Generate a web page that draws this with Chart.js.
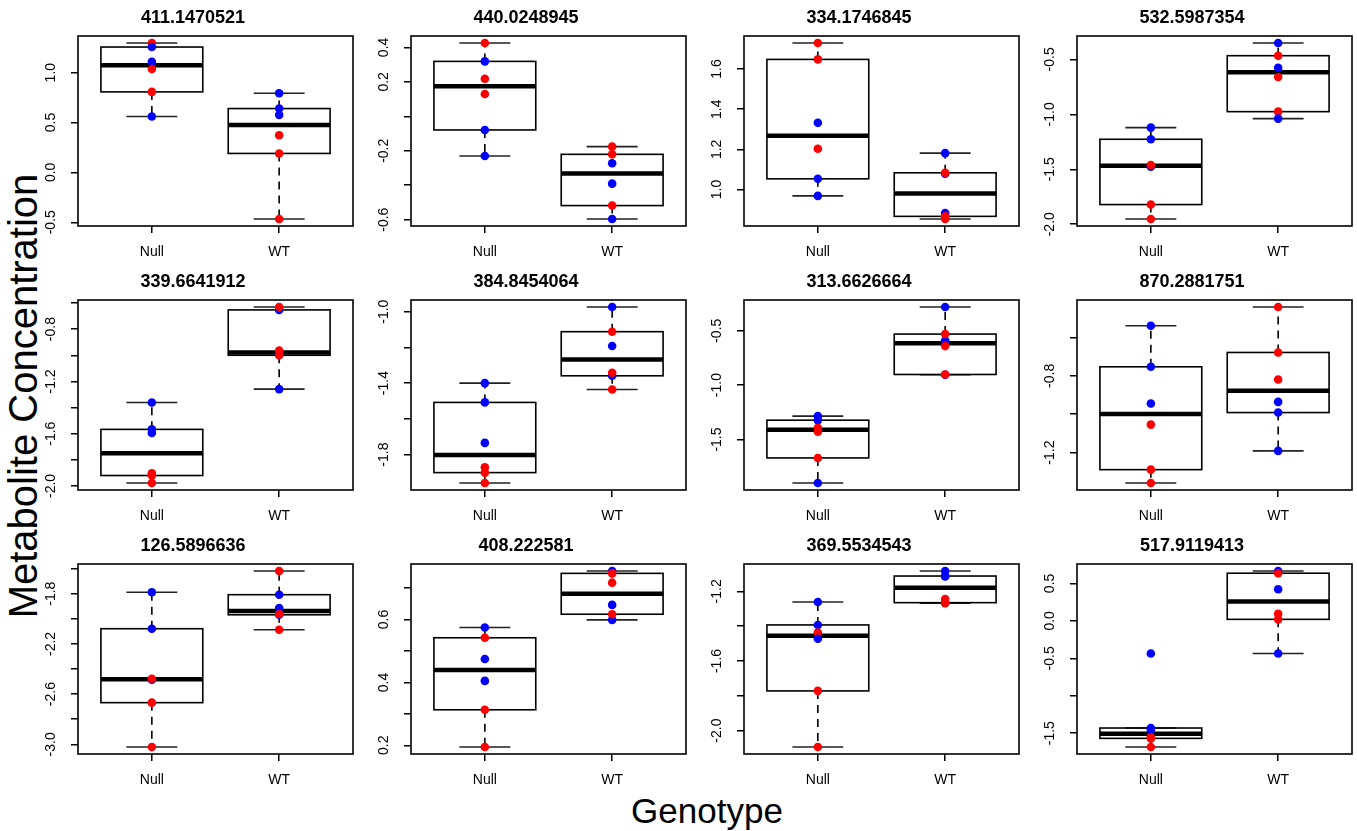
<!DOCTYPE html>
<html>
<head>
<meta charset="utf-8">
<script src="https://cdn.jsdelivr.net/npm/chart.js@4.4.0/dist/chart.umd.min.js"></script>
<style>
  body { margin: 0; width: 1357px; height: 831px; overflow: hidden; background: #fff; font-family: 'Liberation Sans', Arial, sans-serif; }
  .panel { position: absolute; width: 365px; height: 264px; }
  #ylab { position: absolute; left: 23px; top: 396px; transform: translate(-50%, -50%) rotate(-90deg); font-size: 40px; white-space: nowrap; }
  #xlab { position: absolute; left: 707px; top: 811px; transform: translate(-50%, -50%); font-size: 35px; white-space: nowrap; }
</style>
</head>
<body>
<div id="ylab">Metabolite Concentration</div>
<div id="xlab">Genotype</div>
<script>
// Data
const titles = ['411.1470521', '440.0248945', '334.1746845', '532.5987354',
                '339.6641912', '384.8454064', '313.6626664', '870.2881751',
                '126.5896636', '408.222581', '369.5534543', '517.9119413'];
const groups = ['Null', 'WT'];

// sample values per panel (drawing order); sample type 0 = red, 1 = blue
const nullValues = [
  [1.297, 1.257, 1.11, 1.037, 0.807, 0.56],
  [0.4255, 0.319, 0.2186, 0.1296, -0.079, -0.23],
  [1.7296, 1.648, 1.332, 1.2028, 1.053, 0.968],
  [-1.121, -1.227, -1.476, -1.461, -1.821, -1.952],
  [-1.3615, -1.567, -1.595, -1.903, -1.92, -1.977],
  [-1.4, -1.508, -1.7346, -1.871, -1.901, -1.959],
  [-1.285, -1.322, -1.393, -1.429, -1.669, -1.899],
  [-0.539, -0.753, -0.944, -1.054, -1.2887, -1.358],
  [-1.789, -2.079, -2.486, -2.478, -2.668, -3.021],
  [0.5749, 0.5421, 0.4746, 0.4049, 0.313, 0.1947],
  [-1.261, -1.393, -1.437, -1.472, -1.772, -2.094],
  [-0.4356, -1.431, -1.458, -1.555, -1.569, -1.684]
];
const nullTypes = [
  [0, 1, 1, 0, 0, 1], [0, 1, 0, 0, 1, 1], [0, 0, 1, 0, 1, 1], [1, 1, 1, 0, 0, 0],
  [1, 1, 1, 0, 0, 0], [1, 1, 1, 0, 0, 0], [1, 1, 0, 0, 0, 1], [1, 1, 1, 0, 0, 0],
  [1, 1, 1, 0, 0, 0], [1, 0, 1, 1, 0, 0], [1, 1, 0, 1, 0, 0], [1, 1, 1, 0, 0, 0]
];
const wtValues = [
  [0.793, 0.64, 0.577, 0.373, 0.19, -0.467],
  [-0.176, -0.2205, -0.2727, -0.3907, -0.518, -0.5957],
  [1.181, 1.078, 1.083, 0.882, 0.866, 0.853],
  [-0.3515, -0.4667, -0.5758, -0.6606, -0.9758, -1.0394],
  [-0.653, -0.631, -0.995, -0.963, -1.0, -1.259],
  [-0.974, -1.112, -1.1925, -1.359, -1.342, -1.4355],
  [-0.2822, -0.589, -0.5307, -0.641, -0.905, -0.902],
  [-0.4417, -0.6783, -0.819, -0.9357, -0.9913, -1.191],
  [-1.6195, -1.808, -1.914, -1.968, -1.962, -2.087],
  [0.7544, 0.747, 0.7174, 0.6467, 0.599, 0.617],
  [-1.0833, -1.112, -1.114, -1.244, -1.265, -1.268],
  [0.665, 0.636, 0.422, 0.095, 0.02, -0.4356]
];
const wtTypes = [
  [1, 1, 1, 0, 0, 0], [0, 0, 1, 1, 0, 1], [1, 1, 0, 1, 0, 0], [1, 0, 1, 0, 0, 1],
  [1, 0, 1, 0, 0, 1], [1, 0, 1, 1, 0, 0], [1, 1, 0, 0, 1, 0], [0, 0, 0, 1, 1, 1],
  [0, 1, 1, 1, 0, 0], [1, 0, 0, 1, 1, 0], [1, 1, 1, 0, 0, 0], [1, 0, 1, 0, 0, 1]
];

// y tick positions and labels ('' = tick without label, as in the figure)
const yTicks = [
  [-0.5, 0, 0.5, 1.0], [-0.6, -0.4, -0.2, 0, 0.2, 0.4], [1.0, 1.2, 1.4, 1.6], [-2.0, -1.5, -1.0, -0.5],
  [-2.0, -1.8, -1.6, -1.4, -1.2, -1.0, -0.8, -0.6], [-1.8, -1.6, -1.4, -1.2, -1.0], [-1.5, -1.0, -0.5], [-1.2, -1.0, -0.8, -0.6],
  [-3.0, -2.8, -2.6, -2.4, -2.2, -2.0, -1.8, -1.6], [0.2, 0.3, 0.4, 0.5, 0.6, 0.7], [-2.0, -1.8, -1.6, -1.4, -1.2], [-1.5, -1.0, -0.5, 0, 0.5]
];
const yTickLabels = [
  ['-0.5', '0.0', '0.5', '1.0'], ['-0.6', '', '-0.2', '', '0.2', '0.4'], ['1.0', '1.2', '1.4', '1.6'], ['-2.0', '-1.5', '-1.0', '-0.5'],
  ['-2.0', '', '-1.6', '', '-1.2', '', '-0.8', ''], ['-1.8', '', '-1.4', '', '-1.0'], ['-1.5', '-1.0', '-0.5'], ['-1.2', '', '-0.8', ''],
  ['-3.0', '', '-2.6', '', '-2.2', '', '-1.8', ''], ['0.2', '', '0.4', '', '0.6', ''], ['-2.0', '', '-1.6', '', '-1.2'], ['-1.5', '', '-0.5', '0.0', '0.5']
];

const pointColors = ['#ff0000', '#0000ff'];
const FONT = "'Liberation Sans', Arial, sans-serif";
Chart.defaults.font.family = FONT;
Chart.defaults.color = '#000';

// R's fivenum + 1.5*IQR whiskers
function boxStats(vals) {
  const x = vals.slice().sort((a, b) => a - b);
  const n = x.length;
  const n4 = Math.floor((n + 3) / 2) / 2;
  const d = [1, n4, (n + 1) / 2, n + 1 - n4, n];
  const f = d.map(p => 0.5 * (x[Math.floor(p) - 1] + x[Math.ceil(p) - 1]));
  const iqr = f[3] - f[1];
  const lo = Math.min(...x.filter(v => v >= f[1] - 1.5 * iqr));
  const hi = Math.max(...x.filter(v => v <= f[3] + 1.5 * iqr));
  return { lo, q1: f[1], med: f[2], q3: f[3], hi };
}

function line(ctx, x1, y1, x2, y2) {
  ctx.beginPath();
  ctx.moveTo(x1, y1);
  ctx.lineTo(x2, y2);
  ctx.stroke();
}

function makePanel(i) {
  const col = i % 4, row = Math.floor(i / 4);
  const div = document.createElement('div');
  div.className = 'panel';
  div.style.left = (33 + col * 333) + 'px';
  div.style.top = (row * 264) + 'px';
  const canvas = document.createElement('canvas');
  canvas.width = 365;
  canvas.height = 264;
  div.appendChild(canvas);
  document.body.appendChild(div);

  const all = nullValues[i].concat(wtValues[i]);
  const dMin = Math.min(...all), dMax = Math.max(...all);
  const ext = (dMax - dMin) * 0.04;

  const boxPlugin = {
    id: 'rbox',
    beforeDatasetsDraw(chart) {
      const { ctx, scales: { x, y } } = chart;
      ctx.save();
      ctx.strokeStyle = '#000';
      [nullValues[i], wtValues[i]].forEach((vals, g) => {
        const s = boxStats(vals);
        const c = g + 1;
        const cx = x.getPixelForValue(c);
        const bl = x.getPixelForValue(c - 0.4), br = x.getPixelForValue(c + 0.4);
        const cl = x.getPixelForValue(c - 0.2), cr = x.getPixelForValue(c + 0.2);
        ctx.lineWidth = 1.6;
        ctx.setLineDash([8, 6]);
        line(ctx, cx, y.getPixelForValue(s.q3), cx, y.getPixelForValue(s.hi));
        line(ctx, cx, y.getPixelForValue(s.q1), cx, y.getPixelForValue(s.lo));
        ctx.setLineDash([]);
        ctx.strokeStyle = '#222';
        line(ctx, cl, y.getPixelForValue(s.hi), cr, y.getPixelForValue(s.hi));
        line(ctx, cl, y.getPixelForValue(s.lo), cr, y.getPixelForValue(s.lo));
        ctx.strokeStyle = '#000';
        const top = y.getPixelForValue(s.q3), bot = y.getPixelForValue(s.q1);
        ctx.strokeRect(bl, top, br - bl, bot - top);
        ctx.lineWidth = 4.5;
        line(ctx, bl, y.getPixelForValue(s.med), br, y.getPixelForValue(s.med));
      });
      ctx.restore();
    },
    afterDraw(chart) {
      const { ctx, chartArea: a, scales: { y } } = chart;
      ctx.save();
      ctx.strokeStyle = '#000';
      ctx.lineWidth = 1.6;
      ctx.strokeRect(a.left, a.top, a.right - a.left, a.bottom - a.top);
      // rotated y tick labels, as R draws them
      ctx.fillStyle = '#000';
      ctx.font = '14px ' + FONT;
      ctx.textAlign = 'center';
      ctx.textBaseline = 'middle';
      yTicks[i].forEach((v, k) => {
        const lab = yTickLabels[i][k];
        if (!lab) return;
        ctx.save();
        ctx.translate(a.left - 27, y.getPixelForValue(v));
        ctx.rotate(-Math.PI / 2);
        ctx.fillText(lab, 0, 0);
        ctx.restore();
      });
      ctx.restore();
    }
  };

  const toPoints = (vals, c) => vals.map(v => ({ x: c, y: v }));

  new Chart(canvas, {
    type: 'scatter',
    data: {
      datasets: [
        {
          label: groups[0],
          data: toPoints(nullValues[i], 1),
          pointBackgroundColor: nullTypes[i].map(t => pointColors[t]),
          pointBorderWidth: 0,
          pointRadius: 4.3
        },
        {
          label: groups[1],
          data: toPoints(wtValues[i], 2),
          pointBackgroundColor: wtTypes[i].map(t => pointColors[t]),
          pointBorderWidth: 0,
          pointRadius: 4.3
        }
      ]
    },
    options: {
      responsive: false,
      animation: false,
      events: [],
      layout: { padding: { left: 0, right: 45, top: 0, bottom: 0 } },
      plugins: {
        legend: { display: false },
        tooltip: { enabled: false },
        title: {
          display: true,
          text: titles[i],
          color: '#000',
          font: { size: 18, weight: 'bold', lineHeight: '20px' },
          padding: { top: 8, bottom: 8 }
        }
      },
      scales: {
        x: {
          type: 'linear',
          min: 0.42,
          max: 2.58,
          afterBuildTicks: s => { s.ticks = groups.map((g, k) => ({ value: k + 1 })); },
          afterFit: s => { s.height = 38; },
          ticks: {
            callback: (v, k) => groups[k],
            autoSkip: false,
            maxRotation: 0,
            padding: 11,
            font: { size: 14 },
            color: '#000'
          },
          grid: { drawOnChartArea: false, tickLength: 7, color: '#000', lineWidth: 1.5 },
          border: { display: false }
        },
        y: {
          min: dMin - ext,
          max: dMax + ext,
          afterBuildTicks: s => { s.ticks = yTicks[i].map(v => ({ value: v })); },
          afterFit: s => { s.width = 45; },
          ticks: { display: false },
          grid: { drawOnChartArea: false, tickLength: 7, color: '#000', lineWidth: 1.5 },
          border: { display: false }
        }
      }
    },
    plugins: [boxPlugin]
  });
}

titles.forEach((t, i) => makePanel(i));
</script>
</body>
</html>
